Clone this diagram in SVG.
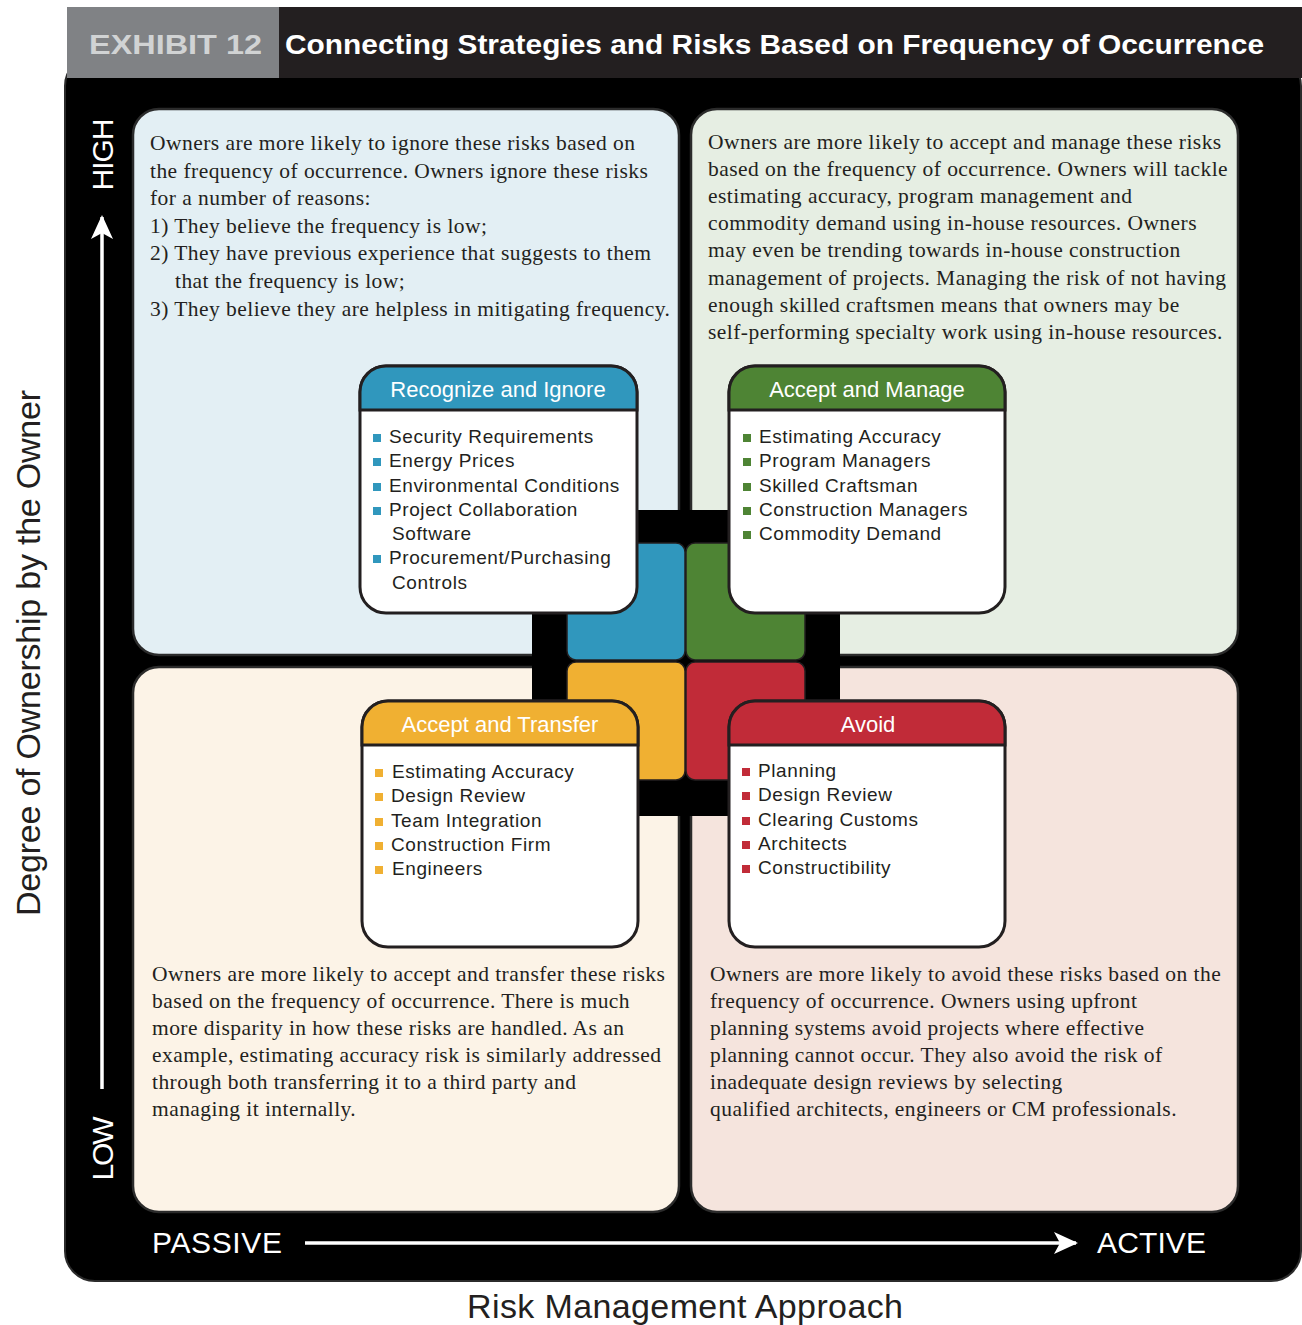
<svg xmlns="http://www.w3.org/2000/svg" width="1302" height="1325" viewBox="0 0 1302 1325">
<style>
.body{font-family:"Liberation Serif","Times New Roman",serif;font-size:21.5px;letter-spacing:0.45px;fill:#231f20}
.item{font-family:"Liberation Sans",Arial,sans-serif;font-size:19px;letter-spacing:0.6px;fill:#231f20}
.ttl{font-family:"Liberation Sans",Arial,sans-serif;font-size:22px;fill:#ffffff;text-anchor:middle}
.axis{font-family:"Liberation Sans",Arial,sans-serif;font-size:30px;fill:#ffffff;letter-spacing:1px}
.big{font-family:"Liberation Sans",Arial,sans-serif;font-size:34px;fill:#231f20;text-anchor:middle}
.quad{stroke:#2b2b2b;stroke-width:2.5}
.box{fill:#ffffff;stroke:#231f20;stroke-width:3}
.sq{stroke:#231f20;stroke-width:1.5}
</style>
<defs>
<marker id="ahU" markerWidth="24" markerHeight="22" viewBox="0 0 24 22" refX="22" refY="11" orient="auto" markerUnits="userSpaceOnUse" style="overflow:visible">
<path d="M0,0 L24,11 L0,22 L6,11 Z" fill="#ffffff"/>
</marker>
</defs>
<rect width="1302" height="1325" fill="#ffffff"/>

<!-- frame -->
<g id="frame">
<rect x="65" y="56" width="1236" height="1225" rx="30" fill="#000000" stroke="#2b2b2b" stroke-width="2"/>
</g>

<!-- header -->
<g id="header">
<rect x="67" y="7" width="212" height="71" fill="#808285"/>
<rect x="279" y="7" width="1023" height="71" fill="#231f20"/>
<text x="89" y="54" font-family="Liberation Sans, Arial, sans-serif" font-size="27" font-weight="bold" fill="#d1d3d4" textLength="173" lengthAdjust="spacingAndGlyphs">EXHIBIT 12</text>
<text x="285" y="54" font-family="Liberation Sans, Arial, sans-serif" font-size="27" font-weight="bold" fill="#ffffff" textLength="979" lengthAdjust="spacingAndGlyphs">Connecting Strategies and Risks Based on Frequency of Occurrence</text>
</g>

<!-- quadrants -->
<g id="quad-tl">
<rect class="quad" x="133" y="109" width="546" height="546" rx="26" fill="#e3eff4"/>
<text class="body" x="150" y="150">Owners are more likely to ignore these risks based on</text>
<text class="body" x="150" y="177.6">the frequency of occurrence. Owners ignore these risks</text>
<text class="body" x="150" y="205.2">for a number of reasons:</text>
<text class="body" x="150" y="232.8">1) They believe the frequency is low;</text>
<text class="body" x="150" y="260.4">2) They have previous experience that suggests to them</text>
<text class="body" x="175" y="288">that the frequency is low;</text>
<text class="body" x="150" y="315.6">3) They believe they are helpless in mitigating frequency.</text>
</g>
<g id="quad-tr">
<rect class="quad" x="691" y="109" width="547" height="546" rx="26" fill="#e6eee3"/>
<text class="body" x="708" y="149">Owners are more likely to accept and manage these risks</text>
<text class="body" x="708" y="176.1">based on the frequency of occurrence. Owners will tackle</text>
<text class="body" x="708" y="203.2">estimating accuracy, program management and</text>
<text class="body" x="708" y="230.3">commodity demand using in-house resources. Owners</text>
<text class="body" x="708" y="257.4">may even be trending towards in-house construction</text>
<text class="body" x="708" y="284.5">management of projects. Managing the risk of not having</text>
<text class="body" x="708" y="311.6">enough skilled craftsmen means that owners may be</text>
<text class="body" x="708" y="338.7">self-performing specialty work using in-house resources.</text>
</g>
<g id="quad-bl">
<rect class="quad" x="133" y="667" width="546" height="545" rx="26" fill="#fcf3e7"/>
<text class="body" x="152" y="981">Owners are more likely to accept and transfer these risks</text>
<text class="body" x="152" y="1008">based on the frequency of occurrence. There is much</text>
<text class="body" x="152" y="1035">more disparity in how these risks are handled. As an</text>
<text class="body" x="152" y="1062">example, estimating accuracy risk is similarly addressed</text>
<text class="body" x="152" y="1089">through both transferring it to a third party and</text>
<text class="body" x="152" y="1116">managing it internally.</text>
</g>
<g id="quad-br">
<rect class="quad" x="691" y="667" width="547" height="545" rx="26" fill="#f5e4dd"/>
<text class="body" x="710" y="981">Owners are more likely to avoid these risks based on the</text>
<text class="body" x="710" y="1008">frequency of occurrence. Owners using upfront</text>
<text class="body" x="710" y="1035">planning systems avoid projects where effective</text>
<text class="body" x="710" y="1062">planning cannot occur. They also avoid the risk of</text>
<text class="body" x="710" y="1089">inadequate design reviews by selecting</text>
<text class="body" x="710" y="1116">qualified architects, engineers or CM professionals.</text>
</g>

<!-- center -->
<g id="center">
<rect x="532" y="510" width="308" height="306" fill="#000000"/>
<rect class="sq" x="567" y="543" width="118" height="117" rx="9" fill="#3097bd"/>
<rect class="sq" x="686" y="543" width="119" height="117" rx="9" fill="#4e8434"/>
<rect class="sq" x="567" y="662" width="118" height="118" rx="9" fill="#f0b032"/>
<rect class="sq" x="686" y="662" width="119" height="118" rx="9" fill="#c12b38"/>
</g>

<!-- strategy boxes -->
<g id="box-recognize">
<rect class="box" x="360" y="366" width="277" height="247" rx="26"/>
<path d="M360,410 V392 A26,26 0 0 1 386,366 H611 A26,26 0 0 1 637,392 V410 Z" fill="#3097bd" stroke="#231f20" stroke-width="3"/>
<text class="ttl" x="498" y="397">Recognize and Ignore</text>
<rect x="373" y="434" width="8" height="8" fill="#3097bd"/>
<text class="item" x="389" y="443">Security Requirements</text>
<rect x="373" y="458" width="8" height="8" fill="#3097bd"/>
<text class="item" x="389" y="467">Energy Prices</text>
<rect x="373" y="483" width="8" height="8" fill="#3097bd"/>
<text class="item" x="389" y="492">Environmental Conditions</text>
<rect x="373" y="507" width="8" height="8" fill="#3097bd"/>
<text class="item" x="389" y="516">Project Collaboration</text>
<text class="item" x="392" y="540">Software</text>
<rect x="373" y="555" width="8" height="8" fill="#3097bd"/>
<text class="item" x="389" y="564">Procurement/Purchasing</text>
<text class="item" x="392" y="589">Controls</text>
</g>
<g id="box-manage">
<rect class="box" x="729" y="366" width="276" height="247" rx="26"/>
<path d="M729,410 V392 A26,26 0 0 1 755,366 H979 A26,26 0 0 1 1005,392 V410 Z" fill="#4e8434" stroke="#231f20" stroke-width="3"/>
<text class="ttl" x="867" y="397">Accept and Manage</text>
<rect x="743" y="434" width="8" height="8" fill="#4e8434"/>
<text class="item" x="759" y="443">Estimating Accuracy</text>
<rect x="743" y="458" width="8" height="8" fill="#4e8434"/>
<text class="item" x="759" y="467">Program Managers</text>
<rect x="743" y="483" width="8" height="8" fill="#4e8434"/>
<text class="item" x="759" y="492">Skilled Craftsman</text>
<rect x="743" y="507" width="8" height="8" fill="#4e8434"/>
<text class="item" x="759" y="516">Construction Managers</text>
<rect x="743" y="531" width="8" height="8" fill="#4e8434"/>
<text class="item" x="759" y="540">Commodity Demand</text>
</g>
<g id="box-transfer">
<rect class="box" x="362" y="701" width="276" height="246" rx="26"/>
<path d="M362,745 V727 A26,26 0 0 1 388,701 H612 A26,26 0 0 1 638,727 V745 Z" fill="#f0b032" stroke="#231f20" stroke-width="3"/>
<text class="ttl" x="500" y="732">Accept and Transfer</text>
<rect x="375" y="769" width="8" height="8" fill="#f0b032"/>
<text class="item" x="392" y="778">Estimating Accuracy</text>
<rect x="375" y="793" width="8" height="8" fill="#f0b032"/>
<text class="item" x="391" y="802">Design Review</text>
<rect x="375" y="818" width="8" height="8" fill="#f0b032"/>
<text class="item" x="391" y="827">Team Integration</text>
<rect x="375" y="842" width="8" height="8" fill="#f0b032"/>
<text class="item" x="391" y="851">Construction Firm</text>
<rect x="375" y="866" width="8" height="8" fill="#f0b032"/>
<text class="item" x="392" y="875">Engineers</text>
</g>
<g id="box-avoid">
<rect class="box" x="729" y="701" width="276" height="246" rx="26"/>
<path d="M729,745 V727 A26,26 0 0 1 755,701 H979 A26,26 0 0 1 1005,727 V745 Z" fill="#c12b38" stroke="#231f20" stroke-width="3"/>
<text class="ttl" x="868" y="732">Avoid</text>
<rect x="742" y="768" width="8" height="8" fill="#c12b38"/>
<text class="item" x="758" y="777">Planning</text>
<rect x="742" y="792" width="8" height="8" fill="#c12b38"/>
<text class="item" x="758" y="801">Design Review</text>
<rect x="742" y="817" width="8" height="8" fill="#c12b38"/>
<text class="item" x="758" y="826">Clearing Customs</text>
<rect x="742" y="841" width="8" height="8" fill="#c12b38"/>
<text class="item" x="758" y="850">Architects</text>
<rect x="742" y="865" width="8" height="8" fill="#c12b38"/>
<text class="item" x="758" y="874">Constructibility</text>
</g>

<!-- axes -->
<g id="connectors">
<line x1="102" y1="1089" x2="102" y2="217" stroke="#ffffff" stroke-width="3.5" marker-end="url(#ahU)"/>
<line x1="305" y1="1243" x2="1076" y2="1243" stroke="#ffffff" stroke-width="3.5" marker-end="url(#ahU)"/>
</g>
<g id="axis-labels">
<text class="axis" transform="translate(113,154) rotate(-90)" text-anchor="middle" textLength="73">HIGH</text>
<text class="axis" transform="translate(113,1148) rotate(-90)" text-anchor="middle" textLength="65">LOW</text>
<text class="axis" x="152" y="1253" textLength="131">PASSIVE</text>
<text class="axis" x="1097" y="1253" textLength="110">ACTIVE</text>
<text class="big" transform="translate(40,653) rotate(-90)" textLength="526">Degree of Ownership by the Owner</text>
<text class="big" x="685" y="1318" textLength="436">Risk Management Approach</text>
</g>
</svg>
